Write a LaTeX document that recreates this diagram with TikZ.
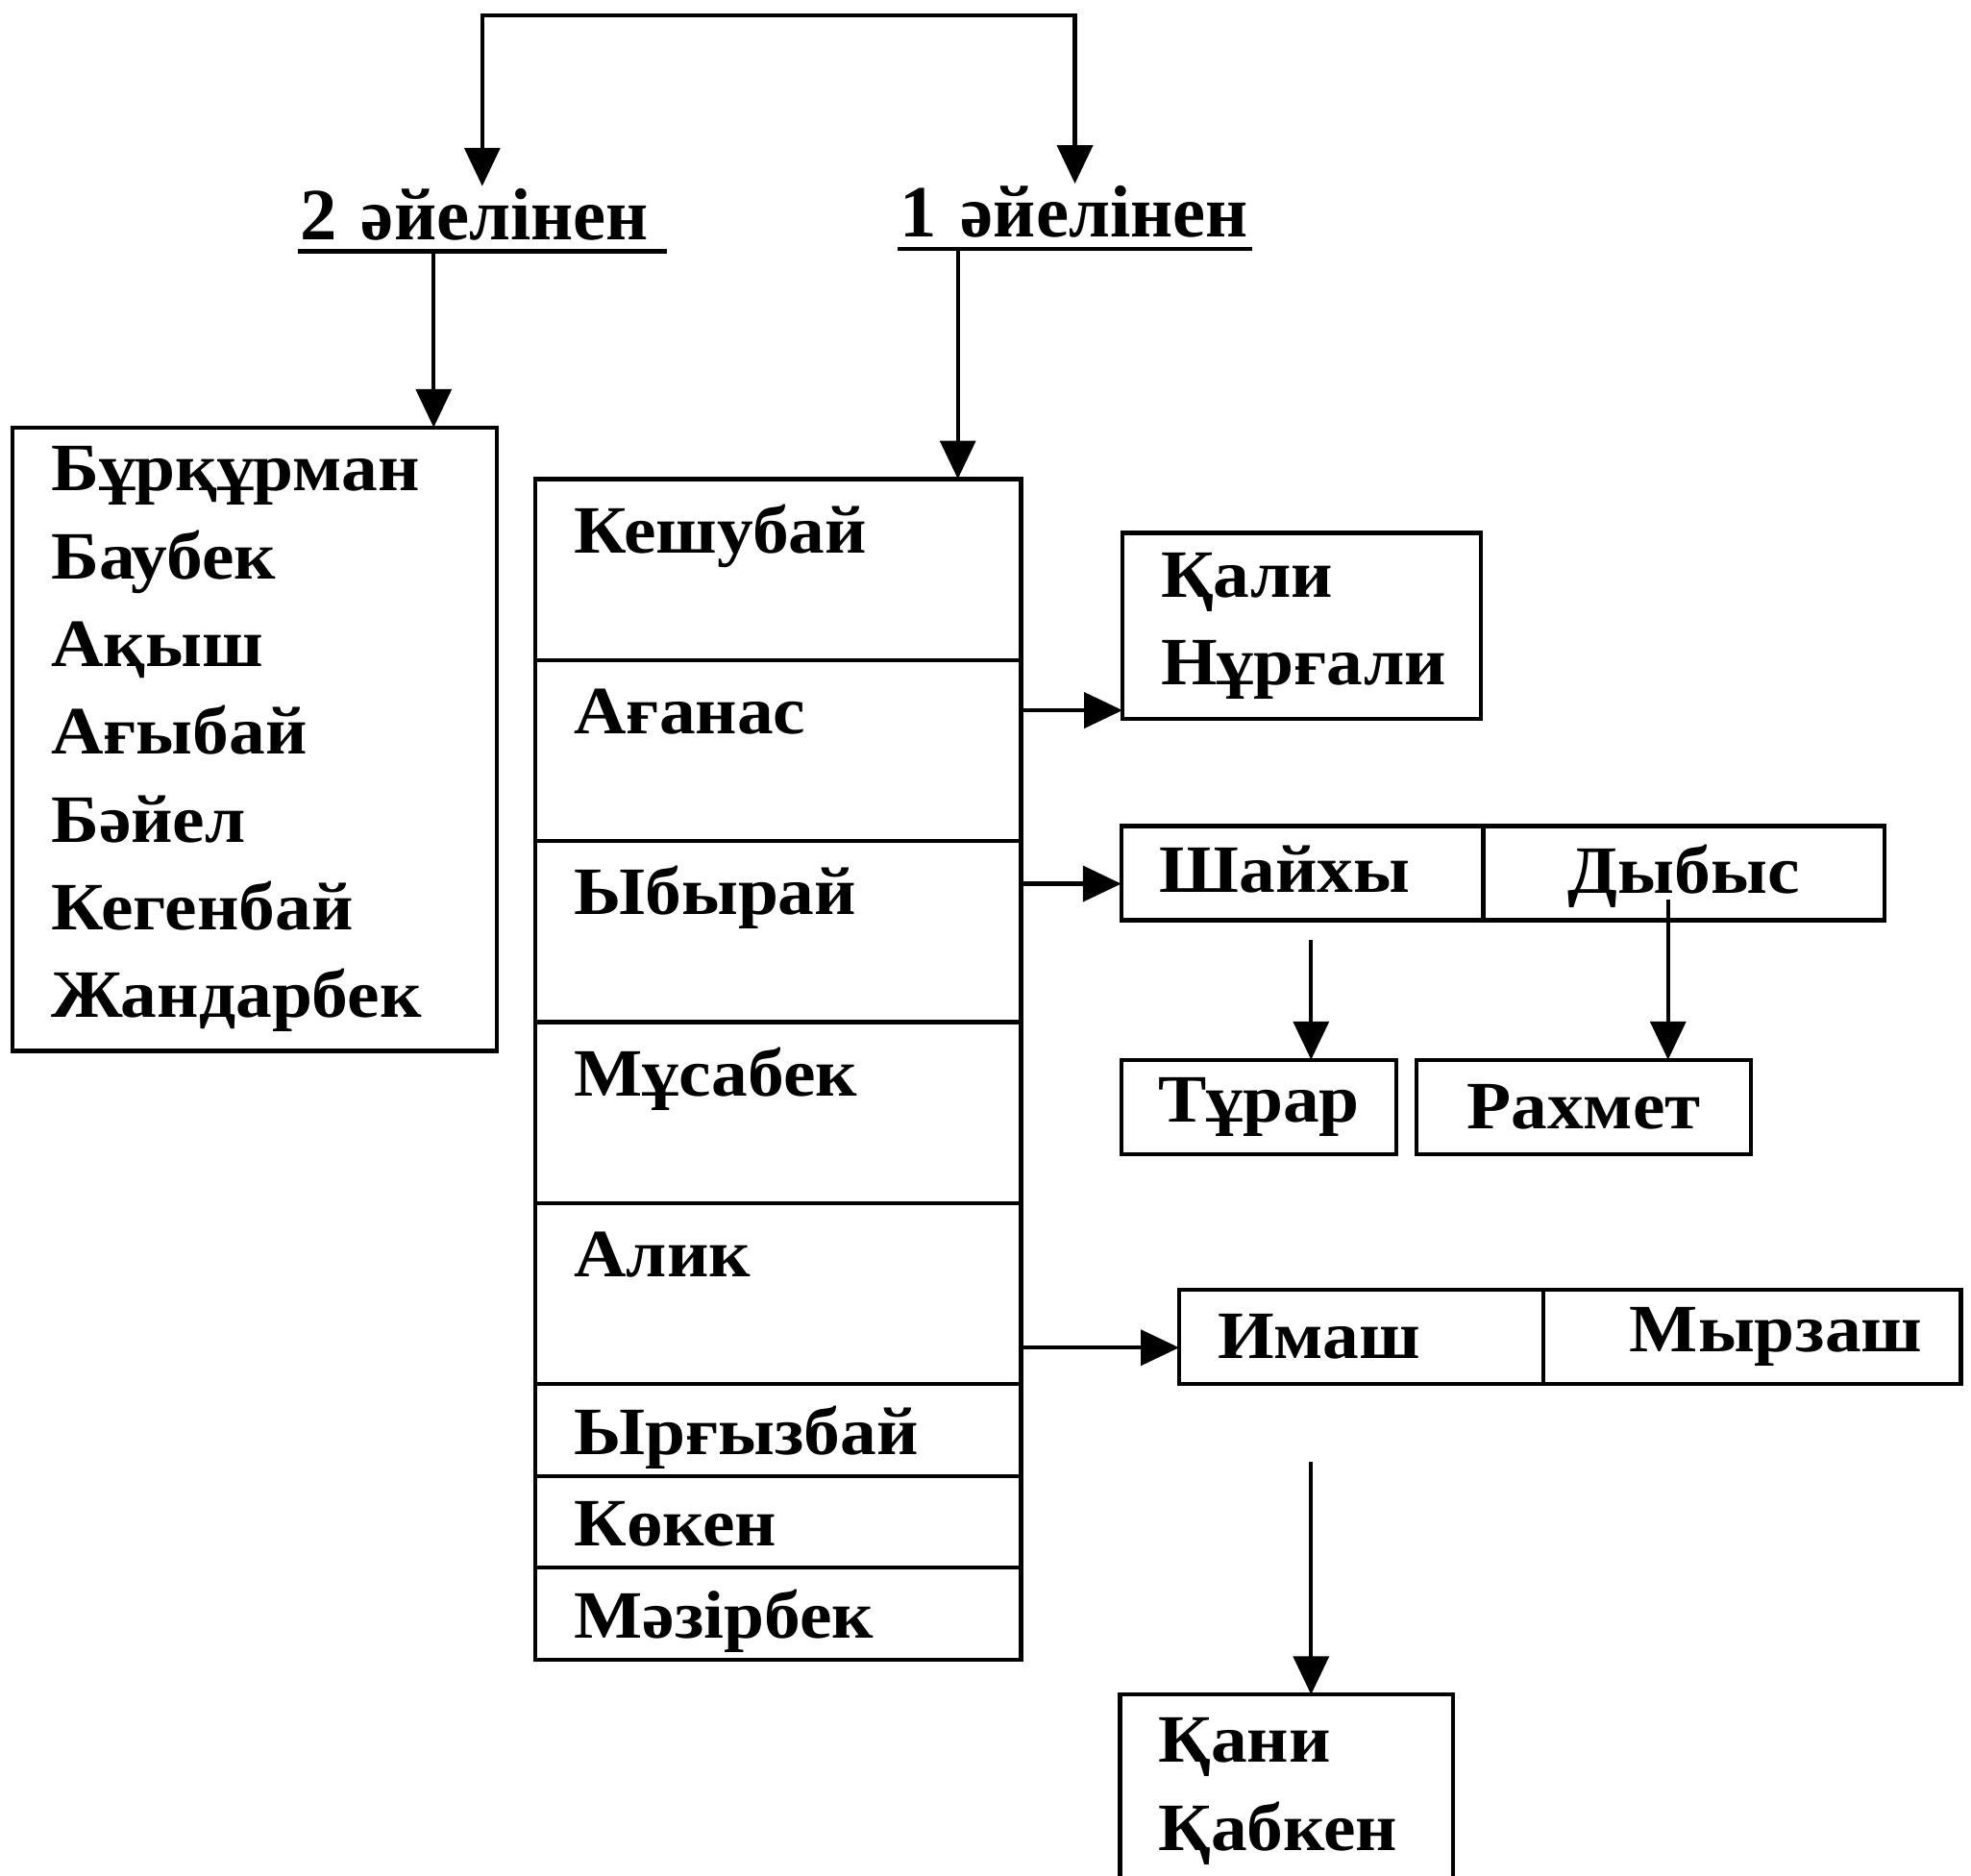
\documentclass[tikz,border=0pt]{standalone}
\usepackage{fontspec}
\setmainfont{Liberation Serif}
\newfontfamily\namefont[FakeStretch=1.07]{Liberation Serif}
\usetikzlibrary{arrows.meta,positioning}

\begin{document}
\begin{tikzpicture}[x=0.15mm, y=-0.15mm, line width=1.4pt,
	every node/.style={font=\namefont\bfseries\fontsize{23}{29.8}\selectfont},
	box/.style={draw, outer sep=0pt, inner ysep=0pt},
	namelist/.style={box, inner xsep=4.6mm, align=left},
	tallrow/.style={namelist, text width=48.75mm, text height=8.8mm, text depth=12.8mm},
	shortrow/.style={namelist, text width=48.75mm, text height=8.4mm, text depth=2.55mm},
	wife/.style={inner sep=0pt, text depth=1.2mm, anchor=south west, align=left, font=\bfseries\fontsize{25}{30}\selectfont},
	tip/.style={-{Triangle[length=13pt, width=12pt]}}]
	\useasboundingbox (0,0) rectangle (1568,1492);

	% the two wives
	\node[wife, text width=43.5mm] (w2) at (237,200) {2 әйелінен};
	\node[wife, text width=41.85mm] (w1) at (714,198) {1 әйелінен};
	\draw (w2.south west) -- (w2.south east);
	\draw (w1.south west) -- (w1.south east);
	\coordinate (top) at (620,12);
	\draw[{Triangle[length=13pt, width=12pt]}-{Triangle[length=13pt, width=12pt]}] (w2.north) |- (top) -| (w1.north);

	% sons of the second wife
	\node[namelist, anchor=north west, text width=48.55mm, minimum height=74.4mm] (kids2) at (10,340) {Бұрқұрман\\Баубек\\Ақыш\\Ағыбай\\Бәйел\\Кегенбай\\Жандарбек};
	\coordinate (c2) at (345,0);
	\draw[tip] (w2.south -| c2) -- (kids2.north -| c2);

	% sons of the first wife
	\node[tallrow, anchor=north west] (kesh) at (426,381) {Кешубай};
	\node[tallrow, below=0pt of kesh] (aganas) {Ағанас};
	\node[tallrow, below=0pt of aganas] (ybyrai) {Ыбырай};
	\node[tallrow, below=0pt of ybyrai] (musabek) {Мұсабек};
	\node[tallrow, below=0pt of musabek] (alik) {Алик};
	\node[shortrow, below=0pt of alik] (yrgyz) {Ырғызбай};
	\node[shortrow, below=0pt of yrgyz] (koken) {Көкен};
	\node[shortrow, below=0pt of koken] (mazir) {Мәзірбек};
	\coordinate (c1) at (762,0);
	\draw[tip] (w1.south -| c1) -- (kesh.north -| c1);

	% grandsons
	\node[namelist, anchor=north west, text width=33.55mm, minimum height=22.2mm] (kali) at (893,424) {Қали\\Нұрғали};
	\node[namelist, anchor=north west, text width=34mm, minimum height=11.25mm, text depth=1mm] (shaikhy) at (892,657) {Шайхы};
	\node[box, right=0pt of shaikhy, minimum width=47.85mm, minimum height=11.25mm, text depth=1mm] (dybys) {Дыбыс};
	\node[box, anchor=north west, minimum width=32.85mm, minimum height=11.25mm] (turar) at (892,843) {Тұрар};
	\node[box, anchor=north west, minimum width=39.9mm, minimum height=11.25mm] (rakhmet) at (1127,843) {Рахмет};
	\node[namelist, anchor=north west, text width=34.3mm, minimum height=11.25mm] (imash) at (938,1026) {Имаш};
	\node[namelist, align=right, right=0pt of imash, text width=40.6mm, minimum height=11.25mm] (myrzash) {Мырзаш};
	\node[namelist, anchor=north west, text width=30.55mm, minimum height=23.1mm] (kani) at (891,1348) {Қани\\Қабкен};

	\coordinate (y1) at (0,565);
	\coordinate (y2) at (0,703);
	\coordinate (y3) at (0,1072);
	\draw[tip] (aganas.east |- y1) -- (kali.west |- y1);
	\draw[tip] (ybyrai.east |- y2) -- (shaikhy.west |- y2);
	\draw[tip] (alik.east |- y3) -- (imash.west |- y3);
	\coordinate (c3) at (1043,0);
	\coordinate (c4) at (1327,0);
	\draw[tip, shorten <=2.4mm] (shaikhy.south -| c3) -- (turar.north -| c3);
	\draw[tip, shorten <=-2.5mm] (dybys.south -| c4) -- (rakhmet.north -| c4);
	\draw[tip, shorten <=9.3mm] (imash.south -| c3) -- (kani.north -| c3);
\end{tikzpicture}
\end{document}
